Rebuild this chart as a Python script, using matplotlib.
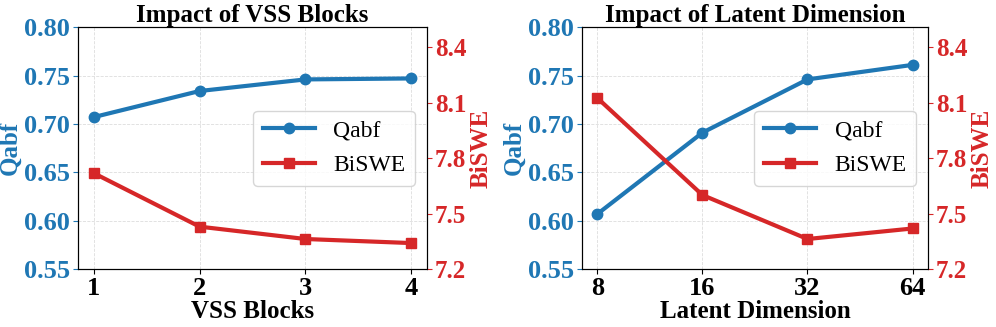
import matplotlib.pyplot as plt
import numpy as np

# data
vss_blocks = ['1', '2', '3', '4']
vss_qabf = [0.707, 0.734, 0.746, 0.747]
vss_biswe = [7.72, 7.43, 7.363, 7.341]

latent_dims = ['8', '16', '32', '64']
latent_qabf = [0.607, 0.691, 0.746, 0.761]
latent_biswe = [8.126, 7.601, 7.363, 7.42]

blue = '#1f77b4'
red = '#d62728'

plt.rcParams['font.family'] = ['Liberation Serif', 'DejaVu Serif']
plt.rcParams['font.weight'] = 'bold'

fig = plt.figure(figsize=(9.96, 3.27), dpi=100)
ax1 = fig.add_axes([0.078, 0.177, 0.351, 0.740])
ax2 = fig.add_axes([0.584, 0.177, 0.348, 0.740])


def panel(ax, cats, qabf, biswe, title, xlabel):
    x = np.arange(len(cats))
    l1, = ax.plot(x, qabf, '-o', color=blue, lw=3, ms=7.5, label='Qabf')
    ax.set_ylim(0.55, 0.80)
    ax.set_yticks([0.55, 0.60, 0.65, 0.70, 0.75, 0.80])
    ax.set_xticks(x)
    ax.set_xticklabels(cats)
    ax.tick_params(axis='x', labelsize=19, pad=2)
    ax.tick_params(axis='y', labelsize=19, colors=blue, pad=2)
    ax.set_ylabel('Qabf', color=blue, fontsize=18, fontweight='bold')
    ax.yaxis.set_label_coords(-0.162, 0.5)
    ax.set_xlabel(xlabel, fontsize=18, fontweight='bold', labelpad=0)
    ax.set_title(title, fontsize=18, fontweight='bold', pad=3)
    ax.grid(True, ls='--', lw=0.6, color='#dddddd')

    axr = ax.twinx()
    l2, = axr.plot(x, biswe, '-s', color=red, lw=3, ms=7.5, label='BiSWE')
    axr.set_ylim(7.2, 8.51)
    axr.set_yticks([7.2, 7.5, 7.8, 8.1, 8.4])
    axr.tick_params(axis='y', labelsize=18, colors=red, pad=2)
    axr.set_ylabel('BiSWE', color=red, fontsize=18, fontweight='bold')
    axr.yaxis.set_label_coords(1.122, 0.5)
    for t in ax.get_xticklabels() + ax.get_yticklabels() + axr.get_yticklabels():
        t.set_fontweight('bold')
    ax.legend([l1, l2], ['Qabf', 'BiSWE'], loc='center right',
              bbox_to_anchor=(0.965, 0.5), prop={'size': 17, 'weight': 'normal'},
              handlelength=2.2, borderpad=0.4, labelspacing=0.55, borderaxespad=0)


panel(ax1, vss_blocks, vss_qabf, vss_biswe, 'Impact of VSS Blocks', 'VSS Blocks')
panel(ax2, latent_dims, latent_qabf, latent_biswe, 'Impact of Latent Dimension', 'Latent Dimension')

fig.savefig('out.png', dpi=100)
